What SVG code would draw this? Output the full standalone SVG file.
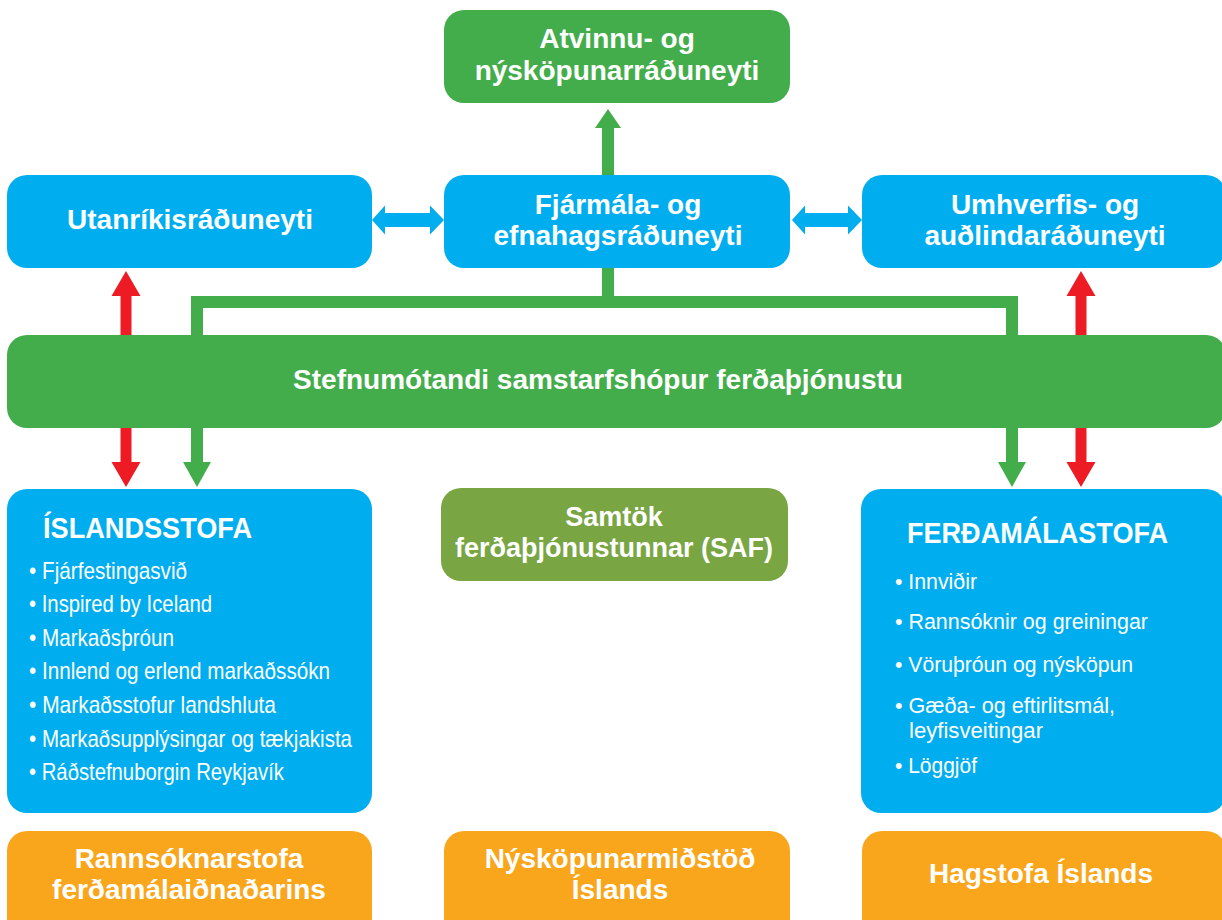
<svg xmlns="http://www.w3.org/2000/svg" width="1222" height="920" viewBox="0 0 1222 920">
<style>
.blue{fill:#00aeef}
.green{fill:#43ad4b}
.olive{fill:#79a543}
.orange{fill:#f9a61c}
.red{fill:#ed1c24}
.t{font-family:"Liberation Sans",Arial,sans-serif;font-weight:bold;font-size:28px;fill:#fff;text-anchor:middle}
.h{font-family:"Liberation Sans",Arial,sans-serif;font-weight:bold;font-size:30px;fill:#fff}
.b{font-family:"Liberation Sans",Arial,sans-serif;font-size:24px;fill:#fff}
.b2{font-family:"Liberation Sans",Arial,sans-serif;font-size:22px;fill:#fff}
</style>
<rect width="1222" height="920" fill="#fff"/>
<g id="connectors">
  <path d="M197 462 V302 H1012 V462 M608 268 V302 M608 176 V127" fill="none" stroke="#43ad4b" stroke-width="12"/>
  <polygon class="green" points="595,128 608,109 621,128"/>
  <polygon class="green" points="183,462 211,462 197,487"/>
  <polygon class="green" points="998,462 1026,462 1012,487"/>
  <polygon class="red" points="126,271 140.5,296 131.5,296 131.5,462 140.5,462 126,487 111.5,462 120.5,462 120.5,296 111.5,296"/>
  <polygon class="red" points="1081,271 1095.5,296 1086.5,296 1086.5,462 1095.5,462 1081,487 1066.5,462 1075.5,462 1075.5,296 1066.5,296"/>
  <polygon class="blue" points="372,220 385,205.5 385,213 430,213 430,205.5 444,220 430,234.5 430,227 385,227 385,234.5"/>
  <polygon class="blue" points="792,220 805,205.5 805,213 848,213 848,205.5 862,220 848,234.5 848,227 805,227 805,234.5"/>
</g>
<g id="atvinnu">
  <rect class="green" x="444" y="10" width="346" height="93" rx="20"/>
  <text class="t" x="617" y="48">Atvinnu- og</text>
  <text class="t" x="617" y="80">nýsköpunarráðuneyti</text>
</g>
<g id="utanrikis">
  <rect class="blue" x="7" y="175" width="365" height="93" rx="20"/>
  <text class="t" x="190" y="229">Utanríkisráðuneyti</text>
</g>
<g id="fjarmala">
  <rect class="blue" x="444" y="175" width="346" height="93" rx="20"/>
  <text class="t" x="618" y="214">Fjármála- og</text>
  <text class="t" x="618" y="245">efnahagsráðuneyti</text>
</g>
<g id="umhverfis">
  <rect class="blue" x="862" y="175" width="364" height="93" rx="20"/>
  <text class="t" x="1045" y="214">Umhverfis- og</text>
  <text class="t" x="1045" y="245">auðlindaráðuneyti</text>
</g>
<g id="stefnumotandi">
  <rect class="green" x="7" y="335" width="1219" height="93" rx="20"/>
  <text class="t" x="598" y="389">Stefnumótandi samstarfshópur ferðaþjónustu</text>
</g>
<g id="islandsstofa">
  <rect class="blue" x="7" y="489" width="365" height="324" rx="20"/>
  <text class="h" x="43" y="538" textLength="209" lengthAdjust="spacingAndGlyphs">ÍSLANDSSTOFA</text>
  <text class="b" x="29" y="579" textLength="158" lengthAdjust="spacingAndGlyphs">• Fjárfestingasvið</text>
  <text class="b" x="29" y="612" textLength="183" lengthAdjust="spacingAndGlyphs">• Inspired by Iceland</text>
  <text class="b" x="29" y="646" textLength="145" lengthAdjust="spacingAndGlyphs">• Markaðsþróun</text>
  <text class="b" x="29" y="679" textLength="301" lengthAdjust="spacingAndGlyphs">• Innlend og erlend markaðssókn</text>
  <text class="b" x="29" y="713" textLength="247" lengthAdjust="spacingAndGlyphs">• Markaðsstofur landshluta</text>
  <text class="b" x="29" y="747" textLength="323" lengthAdjust="spacingAndGlyphs">• Markaðsupplýsingar og tækjakista</text>
  <text class="b" x="29" y="780" textLength="255" lengthAdjust="spacingAndGlyphs">• Ráðstefnuborgin Reykjavík</text>
</g>
<g id="saf">
  <rect class="olive" x="441" y="488" width="347" height="93" rx="20"/>
  <text class="t" x="614" y="526" style="font-size:27px">Samtök</text>
  <text class="t" x="614" y="557" style="font-size:27px">ferðaþjónustunnar (SAF)</text>
</g>
<g id="ferdamalastofa">
  <rect class="blue" x="861" y="489" width="365" height="324" rx="20"/>
  <text class="h" x="907" y="543" textLength="261" lengthAdjust="spacingAndGlyphs">FERÐAMÁLASTOFA</text>
  <text class="b2" x="895" y="589" textLength="82" lengthAdjust="spacingAndGlyphs">• Innviðir</text>
  <text class="b2" x="895" y="629" textLength="253" lengthAdjust="spacingAndGlyphs">• Rannsóknir og greiningar</text>
  <text class="b2" x="895" y="672" textLength="238" lengthAdjust="spacingAndGlyphs">• Vöruþróun og nýsköpun</text>
  <text class="b2" x="895" y="713" textLength="220" lengthAdjust="spacingAndGlyphs">• Gæða- og eftirlitsmál,</text>
  <text class="b2" x="909" y="738" textLength="134" lengthAdjust="spacingAndGlyphs">leyfisveitingar</text>
  <text class="b2" x="895" y="773" textLength="82" lengthAdjust="spacingAndGlyphs">• Löggjöf</text>
</g>
<g id="rannsoknarstofa">
  <rect class="orange" x="7" y="831" width="365" height="110" rx="20"/>
  <text class="t" x="189" y="868">Rannsóknarstofa</text>
  <text class="t" x="189" y="899">ferðamálaiðnaðarins</text>
</g>
<g id="nyskopunarmidstod">
  <rect class="orange" x="444" y="831" width="346" height="110" rx="20"/>
  <text class="t" x="620" y="868">Nýsköpunarmiðstöð</text>
  <text class="t" x="620" y="899">Íslands</text>
</g>
<g id="hagstofa">
  <rect class="orange" x="862" y="831" width="364" height="110" rx="20"/>
  <text class="t" x="1041" y="883">Hagstofa Íslands</text>
</g>
</svg>
